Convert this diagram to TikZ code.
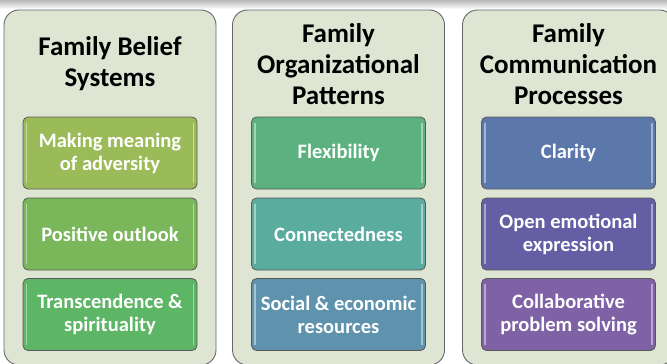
\documentclass[tikz,border=0pt]{standalone}
\usepackage{fontspec}
\setmainfont{Carlito}
\usetikzlibrary{calc}
\definecolor{panelfill}{HTML}{DEE6D3}
\definecolor{cmean}{HTML}{9BBB59}
\definecolor{cpos}{HTML}{7AB75A}
\definecolor{ctrans}{HTML}{5DB566}
\definecolor{cflex}{HTML}{5BB27F}
\definecolor{cconn}{HTML}{5AAC9F}
\definecolor{csoc}{HTML}{5F93AD}
\definecolor{cclar}{HTML}{5C78AB}
\definecolor{copen}{HTML}{645EA5}
\definecolor{ccoll}{HTML}{7E62A5}
\tikzset{
	panel/.style={draw=black!60, fill=panelfill, rounded corners=15pt, line width=0.9pt, minimum width=212pt, minimum height=355pt},
	head/.style={align=center, font=\fontsize{27}{31}\selectfont\bfseries},
	item/.style={draw=black!65, rounded corners=5pt, line width=0.8pt, minimum width=174pt, minimum height=72pt, text=white, align=center, font=\fontsize{20.5}{23}\selectfont\bfseries}
}
\newcommand{\bevel}[1]{
	\draw[white, opacity=.45, line width=1.3pt] ($(#1.north west)+(4,6)$)--($(#1.south west)+(4,-6)$);
	\draw[white, opacity=.45, line width=1.3pt] ($(#1.north east)+(-4,6)$)--($(#1.south east)+(-4,-6)$);
}

\begin{document}
\begin{tikzpicture}[x=1pt,y=-1pt]
\clip (0,0) rectangle (667,364);
\fill[white] (0,0) rectangle (667,364);
\fill[top color=black!28, bottom color=white] (0,0) rectangle (667,9);

\node[panel] (belief) at (110,187.5) {};
\node[panel] (organ) at (338.5,187.5) {};
\node[panel] (commu) at (568.5,187.5) {};

\node[head] (hbelief) at (110,64) {Family Belief\\Systems};
\node[head] (horgan) at (338.5,64) {Family\\Organizational\\Patterns};
\node[head] (hcommu) at (568.5,64) {Family\\Communication\\Processes};

\node[item, fill=cmean] (mean) at (110,153) {Making meaning\\of adversity};
\node[item, fill=cpos] (pos) at (110,234) {Positive outlook};
\node[item, fill=ctrans] (trans) at (110,314.5) {Transcendence \&\\spirituality};

\node[item, fill=cflex] (flex) at (338.5,153) {Flexibility};
\node[item, fill=cconn] (conn) at (338.5,234) {Connectedness};
\node[item, fill=csoc] (soc) at (338.5,314.5) {Social \& economic\\resources};

\node[item, fill=cclar] (clar) at (568.5,153) {Clarity};
\node[item, fill=copen] (open) at (568.5,234) {Open emotional\\expression};
\node[item, fill=ccoll] (coll) at (568.5,314.5) {Collaborative\\problem solving};

\bevel{mean} \bevel{pos} \bevel{trans}
\bevel{flex} \bevel{conn} \bevel{soc}
\bevel{clar} \bevel{open} \bevel{coll}

\end{tikzpicture}
\end{document}
